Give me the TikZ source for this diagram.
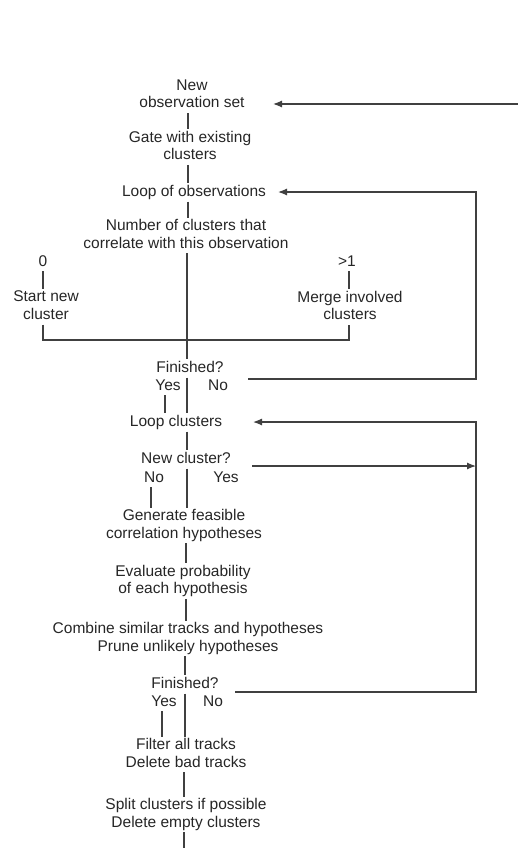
\documentclass[tikz,border=0pt]{standalone}
\usepackage{fontspec}
\setmainfont{Liberation Sans}
\usetikzlibrary{arrows.meta,calc}
\begin{document}
\begin{tikzpicture}[x=1pt,y=-1pt,
  lbl/.style={align=center,inner sep=1.5pt,text depth=3.5pt,text=black!85,yshift=-1.5pt,
    font=\fontsize{15.5}{17.5}\selectfont},
  ln/.style={draw=black!75,line width=1.2pt},
  arr/.style={ln,-{Latex[length=9pt,width=7pt]}}]
\useasboundingbox (0,0) rectangle (518,848);
% x positions of vertical lines
\coordinate (xa) at (188,0);
\coordinate (xb) at (187,0);
\coordinate (xc) at (186,0);
\coordinate (xd) at (185,0);
\coordinate (xe) at (184,0);
\coordinate (xz) at (43,0);
\coordinate (xg) at (349,0);
\coordinate (xy1) at (165,0);
\coordinate (xn2) at (151,0);
\coordinate (xy3) at (162,0);
% nodes
\node[lbl] (new) at (192,94) {New\\observation set};
\node[lbl] (gate) at (190,145.5) {Gate with existing\\clusters};
\node[lbl] (loopobs) at (194,191) {Loop of observations};
\node[lbl] (number) at (186,234) {Number of clusters that\\correlate with this observation};
\node[lbl] (zero) at (43,261) {0};
\node[lbl] (gt) at (347,261) {>1};
\node[lbl] (start) at (46,305.5) {Start new\\cluster};
\node[lbl] (merge) at (350,305.5) {Merge involved\\clusters};
\node[lbl] (fin1) at (190,367) {Finished?};
\node[lbl] (yes1) at (168,385) {Yes};
\node[lbl] (no1) at (218,385) {No};
\node[lbl] (loopcl) at (176,421) {Loop clusters};
\node[lbl] (newcl) at (186,458) {New cluster?};
\node[lbl] (no2) at (154,477) {No};
\node[lbl] (yes2) at (226,477) {Yes};
\node[lbl] (gen) at (184,524) {Generate feasible\\correlation hypotheses};
\node[lbl] (eval) at (183,579.5) {Evaluate probability\\of each hypothesis};
\node[lbl] (comb) at (188,637) {Combine similar tracks and hypotheses\\Prune unlikely hypotheses};
\node[lbl] (fin2) at (185,683) {Finished?};
\node[lbl] (yes3) at (164,701) {Yes};
\node[lbl] (no3) at (213,701) {No};
\node[lbl] (filt) at (186,753) {Filter all tracks\\Delete bad tracks};
\node[lbl] (split) at (186,813) {Split clusters if possible\\Delete empty clusters};
% free ends and corners
\coordinate (e0) at (518,104);
\coordinate (a0) at (273,104);
\coordinate (o1) at (248,379);
\coordinate (r1) at (476,379);
\coordinate (r1t) at (476,192);
\coordinate (a1) at (278,192);
\coordinate (o2) at (235,692);
\coordinate (r2) at (476,692);
\coordinate (r2t) at (476,422);
\coordinate (a2) at (253,422);
\coordinate (o3) at (252,466);
\coordinate (r3) at (476,466);
\coordinate (jl) at (43,340);
\coordinate (jr) at (349,340);
\coordinate (bot) at (184,848);
% main column
\draw[ln] (new.south -| xa) -- (gate.north -| xa);
\draw[ln] (gate.south -| xa) -- (loopobs.north -| xa);
\draw[ln] (loopobs.south -| xa) -- (number.north -| xa);
\draw[ln] (number.south -| xb) -- (fin1.north -| xb);
\draw[ln] (fin1.south -| xb) -- (loopcl.north -| xb);
\draw[ln] (yes1.south -| xy1) -- (loopcl.north -| xy1);
\draw[ln] (loopcl.south -| xb) -- (newcl.north -| xb);
\draw[ln] (newcl.south -| xb) -- (gen.north -| xb);
\draw[ln] (no2.south -| xn2) -- (gen.north -| xn2);
\draw[ln] (gen.south -| xc) -- (eval.north -| xc);
\draw[ln] (eval.south -| xc) -- (comb.north -| xc);
\draw[ln] (comb.south -| xd) -- (fin2.north -| xd);
\draw[ln] (fin2.south -| xd) -- (filt.north -| xd);
\draw[ln] (yes3.south -| xy3) -- (filt.north -| xy3);
\draw[ln] (filt.south -| xe) -- (split.north -| xe);
\draw[ln] (split.south -| xe) -- (bot);
% branches
\draw[ln] (zero.south -| xz) -- (start.north -| xz);
\draw[ln] (gt.south -| xg) -- (merge.north -| xg);
\draw[ln] (start.south -| xz) -- (jl) -- (jr) -- (merge.south -| xg);
% loops
\draw[arr] (e0) -- (a0);
\draw[arr] (o1) -- (r1) -- (r1t) -- (a1);
\draw[arr] (o2) -- (r2) -- (r2t) -- (a2);
\draw[arr] (o3) -- (r3);
\end{tikzpicture}
\end{document}
